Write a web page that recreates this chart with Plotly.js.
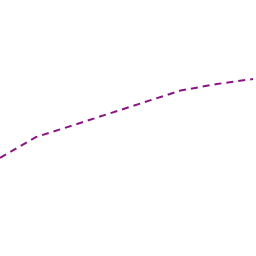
<!DOCTYPE html>
<html><head><meta charset="utf-8">
<script src="https://cdn.plot.ly/plotly-3.0.1.min.js"></script>
<style>html,body{margin:0;padding:0;background:#fff}#c{width:256px;height:256px}</style>
</head><body><div id="c"></div>
<script>
const xVals = [0, 1, 2, 3, 4, 5, 6, 7];
const yVals = [98, 119, 130.5, 142, 154, 165.5, 172, 177];
Plotly.newPlot('c', [{
  x: xVals, y: yVals, type: 'scatter', mode: 'lines',
  line: {color: '#8a1484', width: 2, dash: '7px,5px'}
}], {
  width: 256, height: 256,
  margin: {l: 0, r: 0, t: 0, b: 0},
  paper_bgcolor: '#fff', plot_bgcolor: '#fff',
  showlegend: false,
  xaxis: {visible: false, range: [0, 7 * 256 / 253]},
  yaxis: {visible: false, range: [0, 256]}
}, {staticPlot: true});
</script></body></html>
